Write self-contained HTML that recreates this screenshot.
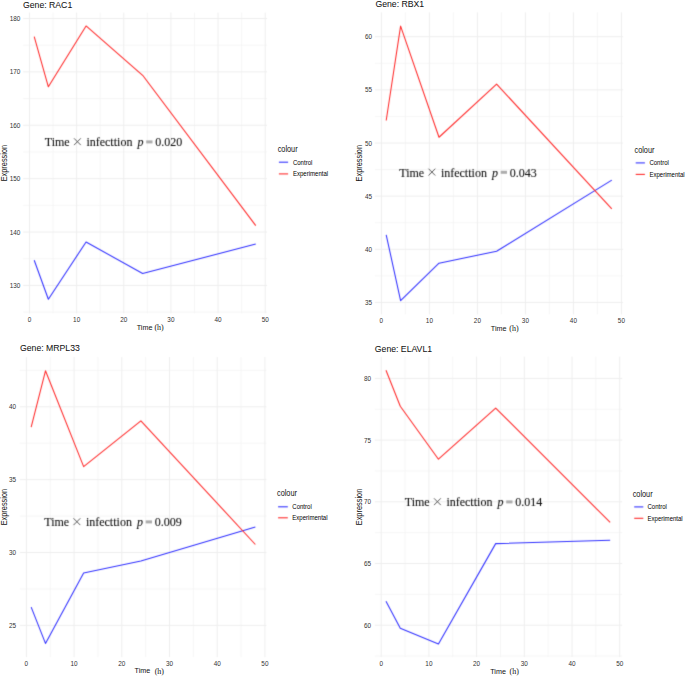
<!DOCTYPE html>
<html><head><meta charset="utf-8"><style>
html,body{margin:0;padding:0;background:#fff;}
body{width:685px;height:676px;overflow:hidden;}
svg{display:block;}
text{font-family:"Liberation Sans",sans-serif;}
.tk{font-size:6.4px;fill:#333;}
.ti{font-size:8.7px;fill:#111;stroke:#111;stroke-width:0.04px;}
.at{font-size:7.2px;fill:#111;}
.ex{font-size:7.4px;}
.ser{font-family:"Liberation Serif",serif;font-size:8px;}
.ann{font-family:"Liberation Serif",serif;font-size:12px;fill:#111;stroke:#111;stroke-width:0.1px;}
.mul{fill:#555;}
.lt{font-size:7.3px;fill:#111;}
.ll{font-size:6.05px;fill:#000;}
</style></head><body>
<svg width="685" height="676" viewBox="0 0 685 676">
<defs><filter id="bl" x="0" y="0" width="100%" height="100%" color-interpolation-filters="sRGB"><feConvolveMatrix order="3" kernelMatrix="1 6 1 6 36 6 1 6 1" divisor="64" edgeMode="duplicate"/></filter></defs>
<g filter="url(#bl)">
<rect width="685" height="676" fill="#fff"/>
<line x1="23.20" x2="267.00" y1="312.09" y2="312.09" stroke="#f4f4f4" stroke-width="0.8"/>
<line x1="23.20" x2="267.00" y1="258.71" y2="258.71" stroke="#f4f4f4" stroke-width="0.8"/>
<line x1="23.20" x2="267.00" y1="205.33" y2="205.33" stroke="#f4f4f4" stroke-width="0.8"/>
<line x1="23.20" x2="267.00" y1="151.95" y2="151.95" stroke="#f4f4f4" stroke-width="0.8"/>
<line x1="23.20" x2="267.00" y1="98.57" y2="98.57" stroke="#f4f4f4" stroke-width="0.8"/>
<line x1="23.20" x2="267.00" y1="45.19" y2="45.19" stroke="#f4f4f4" stroke-width="0.8"/>
<line x1="53.07" x2="53.07" y1="12.60" y2="313.40" stroke="#f4f4f4" stroke-width="0.8"/>
<line x1="100.21" x2="100.21" y1="12.60" y2="313.40" stroke="#f4f4f4" stroke-width="0.8"/>
<line x1="147.35" x2="147.35" y1="12.60" y2="313.40" stroke="#f4f4f4" stroke-width="0.8"/>
<line x1="194.49" x2="194.49" y1="12.60" y2="313.40" stroke="#f4f4f4" stroke-width="0.8"/>
<line x1="241.63" x2="241.63" y1="12.60" y2="313.40" stroke="#f4f4f4" stroke-width="0.8"/>
<line x1="23.20" x2="267.00" y1="285.40" y2="285.40" stroke="#eeeeee" stroke-width="1"/>
<line x1="23.20" x2="267.00" y1="232.02" y2="232.02" stroke="#eeeeee" stroke-width="1"/>
<line x1="23.20" x2="267.00" y1="178.64" y2="178.64" stroke="#eeeeee" stroke-width="1"/>
<line x1="23.20" x2="267.00" y1="125.26" y2="125.26" stroke="#eeeeee" stroke-width="1"/>
<line x1="23.20" x2="267.00" y1="71.88" y2="71.88" stroke="#eeeeee" stroke-width="1"/>
<line x1="23.20" x2="267.00" y1="18.50" y2="18.50" stroke="#eeeeee" stroke-width="1"/>
<line x1="29.50" x2="29.50" y1="12.60" y2="313.40" stroke="#eeeeee" stroke-width="1"/>
<line x1="76.64" x2="76.64" y1="12.60" y2="313.40" stroke="#eeeeee" stroke-width="1"/>
<line x1="123.78" x2="123.78" y1="12.60" y2="313.40" stroke="#eeeeee" stroke-width="1"/>
<line x1="170.92" x2="170.92" y1="12.60" y2="313.40" stroke="#eeeeee" stroke-width="1"/>
<line x1="218.06" x2="218.06" y1="12.60" y2="313.40" stroke="#eeeeee" stroke-width="1"/>
<line x1="265.20" x2="265.20" y1="12.60" y2="313.40" stroke="#eeeeee" stroke-width="1"/>
<polyline points="34.21,260.20 48.36,299.23 86.07,242.00 142.64,273.50 255.77,244.03" fill="none" stroke="#3030ff" stroke-width="1.05" stroke-linejoin="round"/>
<polyline points="34.21,36.65 48.36,86.83 86.07,25.97 142.64,75.30 255.77,225.61" fill="none" stroke="#ff2a2a" stroke-width="1.05" stroke-linejoin="round"/>
<text x="44.80" y="146.40" class="ann">Time</text>
<path d="M74.00,138.30L80.80,145.10M80.80,138.30L74.00,145.10" stroke="#4a4a4a" stroke-width="0.9" fill="none"/>
<text x="86.40" y="146.40" class="ann">infecttion</text>
<text x="137.50" y="146.40" class="ann" font-style="italic">p</text>
<rect x="146.20" y="140.40" width="6.3" height="3.0" fill="#adadad"/>
<text x="155.30" y="146.40" class="ann">0.020</text>
<line x1="278.9" x2="288.1" y1="162.2" y2="162.2" stroke="#3030ff" stroke-width="1.1"/>
<line x1="278.9" x2="288.1" y1="173.9" y2="173.9" stroke="#ff2a2a" stroke-width="1.1"/>
<line x1="374.90" x2="623.10" y1="275.88" y2="275.88" stroke="#f4f4f4" stroke-width="0.8"/>
<line x1="374.90" x2="623.10" y1="222.73" y2="222.73" stroke="#f4f4f4" stroke-width="0.8"/>
<line x1="374.90" x2="623.10" y1="169.57" y2="169.57" stroke="#f4f4f4" stroke-width="0.8"/>
<line x1="374.90" x2="623.10" y1="116.43" y2="116.43" stroke="#f4f4f4" stroke-width="0.8"/>
<line x1="374.90" x2="623.10" y1="63.28" y2="63.28" stroke="#f4f4f4" stroke-width="0.8"/>
<line x1="405.40" x2="405.40" y1="12.40" y2="314.40" stroke="#f4f4f4" stroke-width="0.8"/>
<line x1="453.40" x2="453.40" y1="12.40" y2="314.40" stroke="#f4f4f4" stroke-width="0.8"/>
<line x1="501.40" x2="501.40" y1="12.40" y2="314.40" stroke="#f4f4f4" stroke-width="0.8"/>
<line x1="549.40" x2="549.40" y1="12.40" y2="314.40" stroke="#f4f4f4" stroke-width="0.8"/>
<line x1="597.40" x2="597.40" y1="12.40" y2="314.40" stroke="#f4f4f4" stroke-width="0.8"/>
<line x1="374.90" x2="623.10" y1="302.45" y2="302.45" stroke="#eeeeee" stroke-width="1"/>
<line x1="374.90" x2="623.10" y1="249.30" y2="249.30" stroke="#eeeeee" stroke-width="1"/>
<line x1="374.90" x2="623.10" y1="196.15" y2="196.15" stroke="#eeeeee" stroke-width="1"/>
<line x1="374.90" x2="623.10" y1="143.00" y2="143.00" stroke="#eeeeee" stroke-width="1"/>
<line x1="374.90" x2="623.10" y1="89.85" y2="89.85" stroke="#eeeeee" stroke-width="1"/>
<line x1="374.90" x2="623.10" y1="36.70" y2="36.70" stroke="#eeeeee" stroke-width="1"/>
<line x1="381.40" x2="381.40" y1="12.40" y2="314.40" stroke="#eeeeee" stroke-width="1"/>
<line x1="429.40" x2="429.40" y1="12.40" y2="314.40" stroke="#eeeeee" stroke-width="1"/>
<line x1="477.40" x2="477.40" y1="12.40" y2="314.40" stroke="#eeeeee" stroke-width="1"/>
<line x1="525.40" x2="525.40" y1="12.40" y2="314.40" stroke="#eeeeee" stroke-width="1"/>
<line x1="573.40" x2="573.40" y1="12.40" y2="314.40" stroke="#eeeeee" stroke-width="1"/>
<line x1="621.40" x2="621.40" y1="12.40" y2="314.40" stroke="#eeeeee" stroke-width="1"/>
<polyline points="386.20,234.84 400.60,300.64 439.00,263.23 496.60,251.21 611.80,180.10" fill="none" stroke="#3030ff" stroke-width="1.05" stroke-linejoin="round"/>
<polyline points="386.20,120.46 400.60,26.07 439.00,137.26 496.60,84.11 611.80,208.80" fill="none" stroke="#ff2a2a" stroke-width="1.05" stroke-linejoin="round"/>
<text x="399.30" y="176.80" class="ann">Time</text>
<path d="M428.50,168.70L435.30,175.50M435.30,168.70L428.50,175.50" stroke="#4a4a4a" stroke-width="0.9" fill="none"/>
<text x="440.90" y="176.80" class="ann">infecttion</text>
<text x="492.00" y="176.80" class="ann" font-style="italic">p</text>
<rect x="500.70" y="170.80" width="6.3" height="3.0" fill="#adadad"/>
<text x="509.80" y="176.80" class="ann">0.043</text>
<line x1="635.7" x2="644.9" y1="162.9" y2="162.9" stroke="#3030ff" stroke-width="1.1"/>
<line x1="635.7" x2="644.9" y1="174.4" y2="174.4" stroke="#ff2a2a" stroke-width="1.1"/>
<line x1="19.80" x2="266.40" y1="588.92" y2="588.92" stroke="#f4f4f4" stroke-width="0.8"/>
<line x1="19.80" x2="266.40" y1="516.08" y2="516.08" stroke="#f4f4f4" stroke-width="0.8"/>
<line x1="19.80" x2="266.40" y1="443.23" y2="443.23" stroke="#f4f4f4" stroke-width="0.8"/>
<line x1="19.80" x2="266.40" y1="370.38" y2="370.38" stroke="#f4f4f4" stroke-width="0.8"/>
<line x1="50.25" x2="50.25" y1="357.10" y2="657.10" stroke="#f4f4f4" stroke-width="0.8"/>
<line x1="97.95" x2="97.95" y1="357.10" y2="657.10" stroke="#f4f4f4" stroke-width="0.8"/>
<line x1="145.65" x2="145.65" y1="357.10" y2="657.10" stroke="#f4f4f4" stroke-width="0.8"/>
<line x1="193.35" x2="193.35" y1="357.10" y2="657.10" stroke="#f4f4f4" stroke-width="0.8"/>
<line x1="241.05" x2="241.05" y1="357.10" y2="657.10" stroke="#f4f4f4" stroke-width="0.8"/>
<line x1="19.80" x2="266.40" y1="625.35" y2="625.35" stroke="#eeeeee" stroke-width="1"/>
<line x1="19.80" x2="266.40" y1="552.50" y2="552.50" stroke="#eeeeee" stroke-width="1"/>
<line x1="19.80" x2="266.40" y1="479.65" y2="479.65" stroke="#eeeeee" stroke-width="1"/>
<line x1="19.80" x2="266.40" y1="406.80" y2="406.80" stroke="#eeeeee" stroke-width="1"/>
<line x1="26.40" x2="26.40" y1="357.10" y2="657.10" stroke="#eeeeee" stroke-width="1"/>
<line x1="74.10" x2="74.10" y1="357.10" y2="657.10" stroke="#eeeeee" stroke-width="1"/>
<line x1="121.80" x2="121.80" y1="357.10" y2="657.10" stroke="#eeeeee" stroke-width="1"/>
<line x1="169.50" x2="169.50" y1="357.10" y2="657.10" stroke="#eeeeee" stroke-width="1"/>
<line x1="217.20" x2="217.20" y1="357.10" y2="657.10" stroke="#eeeeee" stroke-width="1"/>
<line x1="264.90" x2="264.90" y1="357.10" y2="657.10" stroke="#eeeeee" stroke-width="1"/>
<polyline points="31.17,607.14 45.48,643.42 83.64,572.90 140.88,560.95 255.36,527.00" fill="none" stroke="#3030ff" stroke-width="1.05" stroke-linejoin="round"/>
<polyline points="31.17,427.20 45.48,370.81 83.64,466.68 140.88,420.79 255.36,544.49" fill="none" stroke="#ff2a2a" stroke-width="1.05" stroke-linejoin="round"/>
<text x="44.30" y="526.40" class="ann">Time</text>
<path d="M73.50,518.30L80.30,525.10M80.30,518.30L73.50,525.10" stroke="#4a4a4a" stroke-width="0.9" fill="none"/>
<text x="85.90" y="526.40" class="ann">infecttion</text>
<text x="137.00" y="526.40" class="ann" font-style="italic">p</text>
<rect x="145.70" y="520.40" width="6.3" height="3.0" fill="#adadad"/>
<text x="154.80" y="526.40" class="ann">0.009</text>
<line x1="278.1" x2="287.8" y1="506.8" y2="506.8" stroke="#3030ff" stroke-width="1.1"/>
<line x1="278.1" x2="287.8" y1="517.8" y2="517.8" stroke="#ff2a2a" stroke-width="1.1"/>
<line x1="374.80" x2="622.20" y1="656.05" y2="656.05" stroke="#f4f4f4" stroke-width="0.8"/>
<line x1="374.80" x2="622.20" y1="594.35" y2="594.35" stroke="#f4f4f4" stroke-width="0.8"/>
<line x1="374.80" x2="622.20" y1="532.65" y2="532.65" stroke="#f4f4f4" stroke-width="0.8"/>
<line x1="374.80" x2="622.20" y1="470.95" y2="470.95" stroke="#f4f4f4" stroke-width="0.8"/>
<line x1="374.80" x2="622.20" y1="409.25" y2="409.25" stroke="#f4f4f4" stroke-width="0.8"/>
<line x1="405.05" x2="405.05" y1="356.60" y2="657.10" stroke="#f4f4f4" stroke-width="0.8"/>
<line x1="452.75" x2="452.75" y1="356.60" y2="657.10" stroke="#f4f4f4" stroke-width="0.8"/>
<line x1="500.45" x2="500.45" y1="356.60" y2="657.10" stroke="#f4f4f4" stroke-width="0.8"/>
<line x1="548.15" x2="548.15" y1="356.60" y2="657.10" stroke="#f4f4f4" stroke-width="0.8"/>
<line x1="595.85" x2="595.85" y1="356.60" y2="657.10" stroke="#f4f4f4" stroke-width="0.8"/>
<line x1="374.80" x2="622.20" y1="625.20" y2="625.20" stroke="#eeeeee" stroke-width="1"/>
<line x1="374.80" x2="622.20" y1="563.50" y2="563.50" stroke="#eeeeee" stroke-width="1"/>
<line x1="374.80" x2="622.20" y1="501.80" y2="501.80" stroke="#eeeeee" stroke-width="1"/>
<line x1="374.80" x2="622.20" y1="440.10" y2="440.10" stroke="#eeeeee" stroke-width="1"/>
<line x1="374.80" x2="622.20" y1="378.40" y2="378.40" stroke="#eeeeee" stroke-width="1"/>
<line x1="381.20" x2="381.20" y1="356.60" y2="657.10" stroke="#eeeeee" stroke-width="1"/>
<line x1="428.90" x2="428.90" y1="356.60" y2="657.10" stroke="#eeeeee" stroke-width="1"/>
<line x1="476.60" x2="476.60" y1="356.60" y2="657.10" stroke="#eeeeee" stroke-width="1"/>
<line x1="524.30" x2="524.30" y1="356.60" y2="657.10" stroke="#eeeeee" stroke-width="1"/>
<line x1="572.00" x2="572.00" y1="356.60" y2="657.10" stroke="#eeeeee" stroke-width="1"/>
<line x1="619.70" x2="619.70" y1="356.60" y2="657.10" stroke="#eeeeee" stroke-width="1"/>
<polyline points="385.97,601.26 400.28,628.16 438.44,644.08 495.68,543.63 610.16,540.18" fill="none" stroke="#3030ff" stroke-width="1.05" stroke-linejoin="round"/>
<polyline points="385.97,370.26 400.28,406.29 438.44,459.23 495.68,408.02 610.16,522.41" fill="none" stroke="#ff2a2a" stroke-width="1.05" stroke-linejoin="round"/>
<text x="404.80" y="506.40" class="ann">Time</text>
<path d="M434.00,498.30L440.80,505.10M440.80,498.30L434.00,505.10" stroke="#4a4a4a" stroke-width="0.9" fill="none"/>
<text x="446.40" y="506.40" class="ann">infecttion</text>
<text x="497.50" y="506.40" class="ann" font-style="italic">p</text>
<rect x="506.20" y="500.40" width="6.3" height="3.0" fill="#adadad"/>
<text x="515.30" y="506.40" class="ann">0.014</text>
<line x1="634.2" x2="643.3" y1="506.9" y2="506.9" stroke="#3030ff" stroke-width="1.1"/>
<line x1="634.2" x2="643.3" y1="518.3" y2="518.3" stroke="#ff2a2a" stroke-width="1.1"/>
</g>
<text transform="translate(20.40,287.90) scale(1.0,1.12)" class="tk" text-anchor="end">130</text>
<text transform="translate(20.40,234.52) scale(1.0,1.12)" class="tk" text-anchor="end">140</text>
<text transform="translate(20.40,181.14) scale(1.0,1.12)" class="tk" text-anchor="end">150</text>
<text transform="translate(20.40,127.76) scale(1.0,1.12)" class="tk" text-anchor="end">160</text>
<text transform="translate(20.40,74.38) scale(1.0,1.12)" class="tk" text-anchor="end">170</text>
<text transform="translate(20.40,21.00) scale(1.0,1.12)" class="tk" text-anchor="end">180</text>
<text transform="translate(29.50,322.10) scale(1.0,1.12)" class="tk" text-anchor="middle">0</text>
<text transform="translate(76.64,322.10) scale(1.0,1.12)" class="tk" text-anchor="middle">10</text>
<text transform="translate(123.78,322.10) scale(1.0,1.12)" class="tk" text-anchor="middle">20</text>
<text transform="translate(170.92,322.10) scale(1.0,1.12)" class="tk" text-anchor="middle">30</text>
<text transform="translate(218.06,322.10) scale(1.0,1.12)" class="tk" text-anchor="middle">40</text>
<text transform="translate(265.20,322.10) scale(1.0,1.12)" class="tk" text-anchor="middle">50</text>
<text transform="translate(23.00,7.70) scale(1.0,1.1)" class="ti">Gene: RAC1</text>
<text transform="translate(6.7,163.1) rotate(-90) scale(1,1.1)" text-anchor="middle" class="at ex">Expression</text>
<text transform="translate(136.70,329.50) scale(1.0,1.12)" class="at">Time</text>
<text transform="translate(154.40,329.70) scale(1.0,1.05)" class="at ser">(h)</text>
<text transform="translate(277.70,152.30) scale(1.0,1.12)" class="lt">colour</text>
<text transform="translate(292.90,164.60) scale(1.0,1.12)" class="ll">Control</text>
<text transform="translate(292.90,176.30) scale(1.0,1.12)" class="ll">Experimental</text>
<text transform="translate(372.00,304.95) scale(1.0,1.12)" class="tk" text-anchor="end">35</text>
<text transform="translate(372.00,251.80) scale(1.0,1.12)" class="tk" text-anchor="end">40</text>
<text transform="translate(372.00,198.65) scale(1.0,1.12)" class="tk" text-anchor="end">45</text>
<text transform="translate(372.00,145.50) scale(1.0,1.12)" class="tk" text-anchor="end">50</text>
<text transform="translate(372.00,92.35) scale(1.0,1.12)" class="tk" text-anchor="end">55</text>
<text transform="translate(372.00,39.20) scale(1.0,1.12)" class="tk" text-anchor="end">60</text>
<text transform="translate(381.40,323.10) scale(1.0,1.12)" class="tk" text-anchor="middle">0</text>
<text transform="translate(429.40,323.10) scale(1.0,1.12)" class="tk" text-anchor="middle">10</text>
<text transform="translate(477.40,323.10) scale(1.0,1.12)" class="tk" text-anchor="middle">20</text>
<text transform="translate(525.40,323.10) scale(1.0,1.12)" class="tk" text-anchor="middle">30</text>
<text transform="translate(573.40,323.10) scale(1.0,1.12)" class="tk" text-anchor="middle">40</text>
<text transform="translate(621.40,323.10) scale(1.0,1.12)" class="tk" text-anchor="middle">50</text>
<text transform="translate(375.40,6.90) scale(1.0,1.1)" class="ti">Gene: RBX1</text>
<text transform="translate(361.6,163.2) rotate(-90) scale(1,1.1)" text-anchor="middle" class="at ex">Expression</text>
<text transform="translate(490.80,330.90) scale(1.0,1.12)" class="at">Time</text>
<text transform="translate(509.30,331.10) scale(1.0,1.05)" class="at ser">(h)</text>
<text transform="translate(634.50,152.70) scale(1.0,1.12)" class="lt">colour</text>
<text transform="translate(649.40,165.30) scale(1.0,1.12)" class="ll">Control</text>
<text transform="translate(649.40,176.80) scale(1.0,1.12)" class="ll">Experimental</text>
<text transform="translate(16.00,627.85) scale(1.0,1.12)" class="tk" text-anchor="end">25</text>
<text transform="translate(16.00,555.00) scale(1.0,1.12)" class="tk" text-anchor="end">30</text>
<text transform="translate(16.00,482.15) scale(1.0,1.12)" class="tk" text-anchor="end">35</text>
<text transform="translate(16.00,409.30) scale(1.0,1.12)" class="tk" text-anchor="end">40</text>
<text transform="translate(26.40,665.80) scale(1.0,1.12)" class="tk" text-anchor="middle">0</text>
<text transform="translate(74.10,665.80) scale(1.0,1.12)" class="tk" text-anchor="middle">10</text>
<text transform="translate(121.80,665.80) scale(1.0,1.12)" class="tk" text-anchor="middle">20</text>
<text transform="translate(169.50,665.80) scale(1.0,1.12)" class="tk" text-anchor="middle">30</text>
<text transform="translate(217.20,665.80) scale(1.0,1.12)" class="tk" text-anchor="middle">40</text>
<text transform="translate(264.90,665.80) scale(1.0,1.12)" class="tk" text-anchor="middle">50</text>
<text transform="translate(20.00,351.00) scale(1.0,1.1)" class="ti">Gene: MRPL33</text>
<text transform="translate(6.7,507.1) rotate(-90) scale(1,1.1)" text-anchor="middle" class="at ex">Expression</text>
<text transform="translate(134.60,673.40) scale(1.0,1.12)" class="at">Time</text>
<text transform="translate(154.70,674.30) scale(1.0,1.05)" class="at ser">(h)</text>
<text transform="translate(277.00,496.30) scale(1.0,1.12)" class="lt">colour</text>
<text transform="translate(292.30,509.20) scale(1.0,1.12)" class="ll">Control</text>
<text transform="translate(292.30,520.20) scale(1.0,1.12)" class="ll">Experimental</text>
<text transform="translate(371.00,627.70) scale(1.0,1.12)" class="tk" text-anchor="end">60</text>
<text transform="translate(371.00,566.00) scale(1.0,1.12)" class="tk" text-anchor="end">65</text>
<text transform="translate(371.00,504.30) scale(1.0,1.12)" class="tk" text-anchor="end">70</text>
<text transform="translate(371.00,442.60) scale(1.0,1.12)" class="tk" text-anchor="end">75</text>
<text transform="translate(371.00,380.90) scale(1.0,1.12)" class="tk" text-anchor="end">80</text>
<text transform="translate(381.20,666.10) scale(1.0,1.12)" class="tk" text-anchor="middle">0</text>
<text transform="translate(428.90,666.10) scale(1.0,1.12)" class="tk" text-anchor="middle">10</text>
<text transform="translate(476.60,666.10) scale(1.0,1.12)" class="tk" text-anchor="middle">20</text>
<text transform="translate(524.30,666.10) scale(1.0,1.12)" class="tk" text-anchor="middle">30</text>
<text transform="translate(572.00,666.10) scale(1.0,1.12)" class="tk" text-anchor="middle">40</text>
<text transform="translate(619.70,666.10) scale(1.0,1.12)" class="tk" text-anchor="middle">50</text>
<text transform="translate(374.80,351.60) scale(1.0,1.1)" class="ti">Gene: ELAVL1</text>
<text transform="translate(361.6,507.0) rotate(-90) scale(1,1.1)" text-anchor="middle" class="at ex">Expression</text>
<text transform="translate(490.20,673.80) scale(1.0,1.12)" class="at">Time</text>
<text transform="translate(509.50,674.40) scale(1.0,1.05)" class="at ser">(h)</text>
<text transform="translate(632.70,496.60) scale(1.0,1.12)" class="lt">colour</text>
<text transform="translate(647.50,509.30) scale(1.0,1.12)" class="ll">Control</text>
<text transform="translate(647.50,520.70) scale(1.0,1.12)" class="ll">Experimental</text>
</svg>
</body></html>
